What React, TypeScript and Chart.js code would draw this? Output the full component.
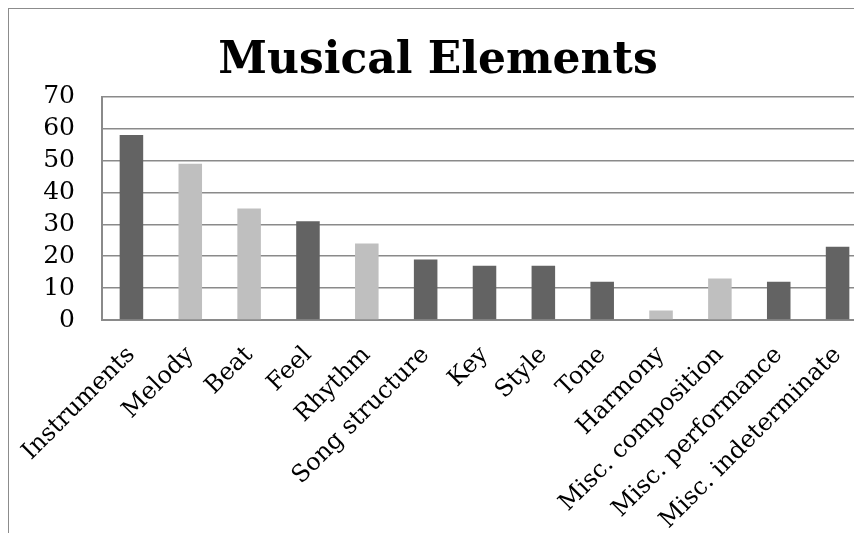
import React, { useEffect, useRef } from "react";
import { Chart, registerables } from "chart.js";

Chart.register(...registerables);

const categories = [
  "Instruments",
  "Melody",
  "Beat",
  "Feel",
  "Rhythm",
  "Song structure",
  "Key",
  "Style",
  "Tone",
  "Harmony",
  "Misc. composition",
  "Misc. performance",
  "Misc. indeterminate",
];
const values = [58, 49, 35, 31, 24, 19, 17, 17, 12, 3, 13, 12, 23];
const shades = ["dark", "light", "light", "dark", "light", "dark", "dark", "dark", "dark", "light", "light", "dark", "dark"];
const titleText = "Musical Elements";

const DARK = "#636363";
const LIGHT = "#bfbfbf";
const GRID = "#8a8a8a";
const FONT = "'DejaVu Serif', serif";

export default function App() {
  const ref = useRef<HTMLCanvasElement | null>(null);
  useEffect(() => {
    if (!ref.current) return;
    const chart = new Chart(ref.current, {
      type: "bar",
      data: {
        labels: categories,
        datasets: [
          {
            data: values,
            backgroundColor: shades.map((s) => (s === "dark" ? DARK : LIGHT)),
            barPercentage: 0.4,
            categoryPercentage: 1,
          },
        ],
      },
      options: {
        responsive: false,
        animation: false,
        layout: { padding: { left: 0, right: 6, top: 0, bottom: 0 } },
        plugins: {
          legend: { display: false },
          tooltip: { enabled: false },
          title: {
            display: true,
            text: titleText,
            color: "#000",
            font: { family: FONT, size: 44, weight: "bold", lineHeight: 1.2 },
            padding: { top: 26, bottom: 9 },
          },
        },
        scales: {
          x: {
            grid: { display: false, drawTicks: false },
            border: { display: true, color: GRID, width: 2 },
            ticks: {
              color: "#000",
              font: { family: FONT, size: 24 },
              maxRotation: 45,
              minRotation: 45,
              autoSkip: false,
              padding: 21,
            },
            afterFit: (scale: any) => {
              scale.height = 249;
              scale.paddingLeft = 0;
              scale.paddingRight = 0;
            },
          },
          y: {
            min: 0,
            max: 70,
            ticks: {
              stepSize: 10,
              autoSkip: false,
              color: "#000",
              font: { family: FONT, size: 25 },
              padding: 27,
            },
            grid: { color: GRID, lineWidth: 1.5, drawTicks: false },
            border: { display: true, color: GRID, width: 2 },
            afterFit: (scale: any) => {
              scale.width = 93;
            },
          },
        },
      },
    });
    return () => chart.destroy();
  }, []);

  return (
    <div style={{ width: 846, height: 525, overflow: "hidden" }}>
      <div style={{ border: "1px solid #8c8c8c", width: 864, height: 560 }}>
        <canvas ref={ref} width={864} height={560} style={{ display: "block" }} />
      </div>
    </div>
  );
}
